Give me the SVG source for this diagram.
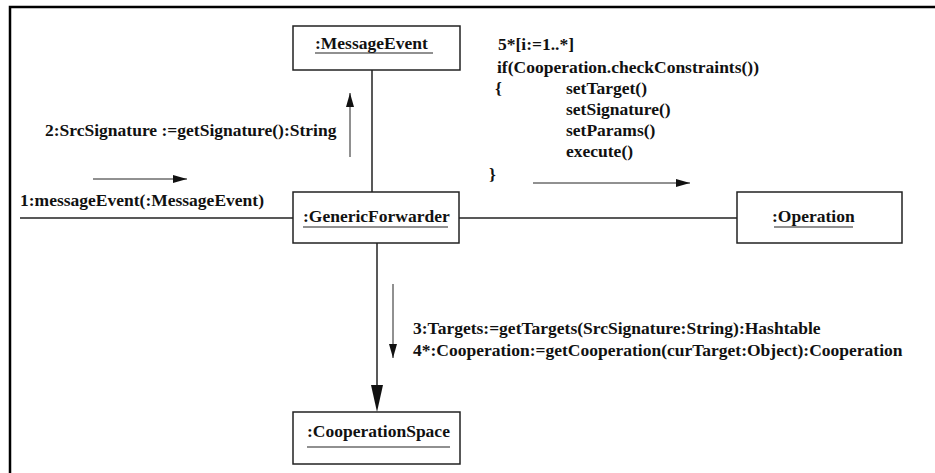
<svg xmlns="http://www.w3.org/2000/svg" width="935" height="473" viewBox="0 0 935 473">
<defs>
<style>
.box{fill:#fff;stroke:#222;stroke-width:1.5}
.ln{stroke:#222;stroke-width:1.5;fill:none}
.msg{stroke:#222;stroke-width:1;fill:none}
.t{font-family:"Liberation Serif","Times New Roman",serif;font-weight:bold;font-size:17.5px;fill:#111}
.ul{stroke:#222;stroke-width:1.2}
</style>
<marker id="ah" viewBox="0 0 14 8" refX="14" refY="4" markerWidth="14" markerHeight="8" markerUnits="userSpaceOnUse" orient="auto">
<path d="M0,0 L14,4 L0,8 Z" fill="#111"/>
</marker>
</defs>
<rect width="935" height="473" fill="#fff"/>
<path d="M10,473 L10,7 L935,7" fill="none" stroke="#000" stroke-width="2.5"/>

<g id="connectors">
<line class="ln" x1="372" y1="70" x2="372" y2="192"/>
<line class="ln" x1="20" y1="218" x2="293" y2="218"/>
<line class="ln" x1="459" y1="218" x2="737" y2="218"/>
<line class="ln" x1="377" y1="243" x2="377" y2="385"/>
<path d="M371,385 L383,385 L377,412 Z" fill="#111"/>
<line class="msg" x1="350" y1="157" x2="350" y2="93" marker-end="url(#ah)"/>
<line class="msg" x1="93" y1="179" x2="187" y2="179" marker-end="url(#ah)"/>
<line class="msg" x1="533" y1="183" x2="690" y2="183" marker-end="url(#ah)"/>
<line class="msg" x1="393" y1="284" x2="393" y2="358" marker-end="url(#ah)"/>
</g>

<g id="labels">
<text class="t" x="45" y="136">2:SrcSignature :=getSignature():String</text>
<text class="t" x="20" y="206">1:messageEvent(:MessageEvent)</text>
<text class="t" x="498" y="50">5*[i:=1..*]</text>
<text class="t" x="497" y="73">if(Cooperation.checkConstraints())</text>
<text class="t" x="495" y="94">{</text>
<text class="t" x="566" y="94">setTarget()</text>
<text class="t" x="566" y="115">setSignature()</text>
<text class="t" x="566" y="136">setParams()</text>
<text class="t" x="566" y="157">execute()</text>
<text class="t" x="489" y="180">}</text>
<text class="t" x="413" y="334">3:Targets:=getTargets(SrcSignature:String):Hashtable</text>
<text class="t" x="413" y="356">4*:Cooperation:=getCooperation(curTarget:Object):Cooperation</text>
</g>

<g id="messageEvent">
<rect class="box" x="293" y="26" width="167" height="44"/>
<text class="t" x="315" y="49">:MessageEvent</text>
<line class="ul" x1="315" y1="53" x2="433" y2="53"/>
</g>
<g id="genericForwarder">
<rect class="box" x="293" y="192" width="166" height="51"/>
<text class="t" x="303" y="222">:GenericForwarder</text>
<line class="ul" x1="303" y1="227" x2="448" y2="227"/>
</g>
<g id="operation">
<rect class="box" x="737" y="192" width="165" height="51"/>
<text class="t" x="772" y="222">:Operation</text>
<line class="ul" x1="774" y1="227" x2="853" y2="227"/>
</g>
<g id="cooperationSpace">
<rect class="box" x="293" y="412" width="167" height="52"/>
<text class="t" x="307" y="437">:CooperationSpace</text>
<line class="ul" x1="307" y1="447" x2="450" y2="447"/>
</g>
</svg>
